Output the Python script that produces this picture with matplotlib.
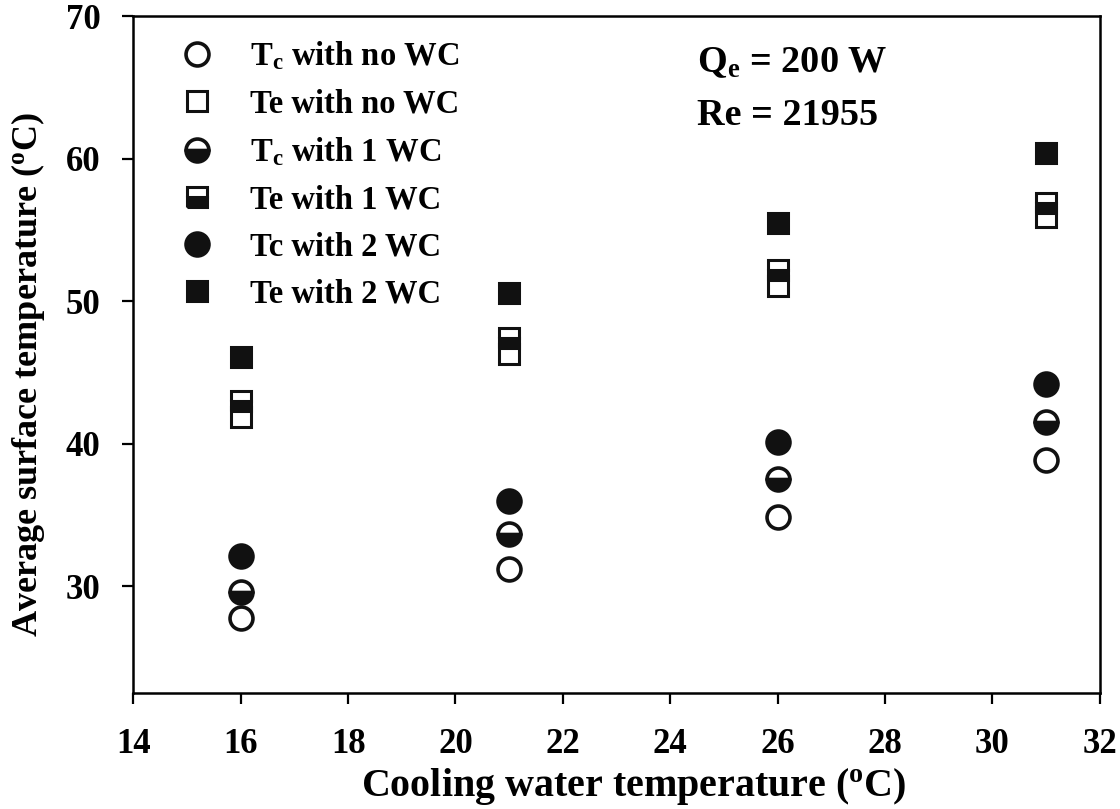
import matplotlib
matplotlib.use('Agg')
import matplotlib.pyplot as plt

plt.rcParams['font.family'] = ['Liberation Serif', 'DejaVu Serif']
plt.rcParams['font.weight'] = 'bold'
plt.rcParams['mathtext.fontset'] = 'custom'
plt.rcParams['mathtext.rm'] = 'Liberation Serif:bold'
plt.rcParams['mathtext.bf'] = 'Liberation Serif:bold'
plt.rcParams['mathtext.it'] = 'Liberation Serif:bold'

# Cooling water temperature (deg C)
water_temp = [16, 21, 26, 31]

# Average surface temperatures (deg C)
tc_no_wc = [27.8, 31.2, 34.9, 38.9]
te_no_wc = [41.9, 46.3, 51.1, 55.9]
tc_1_wc = [29.6, 33.7, 37.5, 41.5]
te_1_wc = [43.0, 47.4, 52.2, 56.9]
tc_2_wc = [32.1, 36.0, 40.1, 44.2]
te_2_wc = [46.1, 50.6, 55.5, 60.4]

labels = [
    r'$\mathbf{T_c}$ with no WC',
    'Te with no WC',
    r'$\mathbf{T_c}$ with 1 WC',
    'Te with 1 WC',
    'Tc with 2 WC',
    'Te with 2 WC',
]

fig = plt.figure(figsize=(11.2, 8.09), dpi=100)
ax = fig.add_axes([0.119, 0.143, 0.863, 0.837])

black = '#111111'
circ = dict(marker='o', ms=16.5, mew=2.6, mec=black, linestyle='none')
sq = dict(marker='s', ms=14, mew=2.2, mec=black, linestyle='none')

ax.plot(water_temp, tc_no_wc, mfc='white', label=labels[0], **circ)
ax.plot(water_temp, te_no_wc, mfc='white', label=labels[1], **sq)
ax.plot(water_temp, tc_1_wc, mfc=black, fillstyle='bottom',
        markerfacecoloralt='white', label=labels[2], **circ)
ax.plot(water_temp, te_1_wc, mfc=black, fillstyle='bottom',
        markerfacecoloralt='white', label=labels[3], **sq)
ax.plot(water_temp, tc_2_wc, mfc=black, label=labels[4], **circ)
ax.plot(water_temp, te_2_wc, mfc=black, label=labels[5], **sq)

ax.set_xlim(14, 32)
ax.set_ylim(22.5, 70)
ax.set_xticks(range(14, 33, 2))
ax.set_yticks([30, 40, 50, 60, 70])

ax.tick_params(direction='out', length=8, width=1.6, labelsize=25,
               top=False, right=False)
ax.tick_params(axis='x', pad=17)
ax.tick_params(axis='y', pad=15.5)
for lab in ax.get_xticklabels() + ax.get_yticklabels():
    lab.set_fontweight('bold')
for s in ax.spines.values():
    s.set_linewidth(1.8)

ax.set_xlabel(r'Cooling water temperature ($\mathbf{^o}$C)', fontsize=28.8,
              fontweight='bold')
ax.set_ylabel(r'Average surface temperature ($\mathbf{^o}$C)', fontsize=26,
              fontweight='bold')
ax.xaxis.set_label_coords(0.518, -0.107)
ax.yaxis.set_label_coords(-0.089, 0.47)

ax.legend(loc='upper left', frameon=False, handlelength=1.5,
          handletextpad=0.85, labelspacing=0.49, borderpad=0,
          borderaxespad=0, bbox_to_anchor=(0.041, 0.965), markerscale=1.0,
          prop={'weight': 'bold', 'size': 23.5})

ax.text(0.583, 0.932, r'Q$\mathbf{_e}$ = 200 W', transform=ax.transAxes,
        fontsize=27.5, fontweight='bold', va='center')
ax.text(0.583, 0.854, 'Re = 21955', transform=ax.transAxes,
        fontsize=27.5, fontweight='bold', va='center')

fig.savefig('out.png', dpi=100)
